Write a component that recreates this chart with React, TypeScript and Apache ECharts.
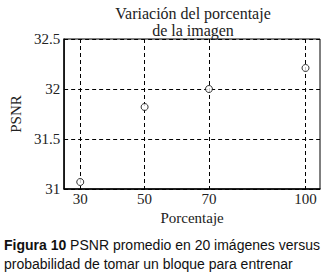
import React, { useEffect, useRef } from "react";
import * as echarts from "echarts";

const xTicks = [30, 50, 70, 100];
const psnr = [31.07, 31.82, 32.0, 32.21];
const yTicks = [31, 31.5, 32, 32.5];
const titleText = "Variación del porcentaje\nde la imagen";
const yName = "PSNR";
const xName = "Porcentaje";
const captionBold = "Figura 10";
const captionRest = " PSNR promedio en 20 imágenes versus\nprobabilidad de tomar un bloque para entrenar";

export default function App() {
  const ref = useRef<HTMLDivElement>(null);
  useEffect(() => {
    const chart = echarts.init(ref.current!, null, { renderer: "svg" });
    const serif = "Liberation Serif, Times New Roman, serif";
    chart.setOption({
      animation: false,
      backgroundColor: "#fff",
      title: {
        text: titleText,
        left: 188,
        top: 0,
        textAlign: "center",
        textStyle: { fontFamily: serif, fontSize: 16, fontWeight: "normal", color: "#222", lineHeight: 17 },
      },
      grid: { left: 56, right: 13, top: 39, bottom: 90, show: true, borderColor: "#000", borderWidth: 1 },
      xAxis: {
        type: "value",
        min: 25,
        max: 104.5,
        name: xName,
        nameLocation: "middle",
        nameGap: 18,
        nameTextStyle: { fontFamily: serif, fontSize: 15, color: "#222" },
        axisLine: { lineStyle: { color: "#000", width: 1.5 } },
        axisTick: { show: false, customValues: xTicks },
        axisLabel: { customValues: xTicks, fontFamily: serif, fontSize: 15, color: "#222", margin: 2 },
        splitLine: { show: true, lineStyle: { color: "#000", type: [4, 3], width: 1 } },
      },
      yAxis: {
        type: "value",
        min: yTicks[0],
        max: yTicks[yTicks.length - 1],
        interval: 0.5,
        name: yName,
        nameLocation: "middle",
        nameGap: 40,
        nameTextStyle: { fontFamily: serif, fontSize: 15, color: "#222" },
        axisLine: { show: true, lineStyle: { color: "#000", width: 1.5 } },
        axisTick: { show: false },
        axisLabel: { fontFamily: serif, fontSize: 15, color: "#222", margin: 4 },
        splitLine: { show: true, lineStyle: { color: "#000", type: [4, 3], width: 1 } },
      },
      series: [
        {
          type: "scatter",
          data: xTicks.map((x, i) => [x, psnr[i]]),
          symbol: "circle",
          symbolSize: 7,
          itemStyle: { color: "#fff", borderColor: "#000", borderWidth: 1 },
        },
      ],
      graphic: [
        {
          type: "text",
          left: 4,
          top: 235,
          style: {
            text: "{b|" + captionBold + "}" + captionRest,
            fontFamily: "Liberation Sans, Arial, sans-serif",
            fontSize: 14,
            lineHeight: 19,
            fill: "#111",
            rich: {
              b: { fontFamily: "Liberation Sans, Arial, sans-serif", fontSize: 14, fontWeight: "bold", fill: "#111", lineHeight: 19 },
            },
          },
        },
      ],
    });
    return () => chart.dispose();
  }, []);
  return <div ref={ref} style={{ position: "fixed", left: 0, top: 0, width: 333, height: 279 }} />;
}
